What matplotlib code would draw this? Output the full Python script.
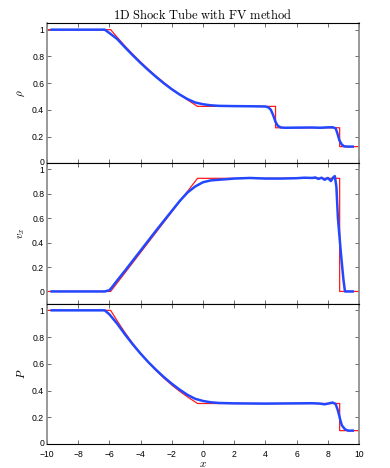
import matplotlib
matplotlib.use('Agg')
import matplotlib.pyplot as plt
from matplotlib.transforms import ScaledTranslation

plt.rcParams['font.family'] = ['Liberation Sans', 'DejaVu Sans']
plt.rcParams['mathtext.fontset'] = 'cm'

# exact solution (red)
x_ex_rho = [-10, -5.92, -5.5, -5.0, -4.5, -4.0, -3.5, -3.0, -2.5, -2.0, -1.5, -1.0, -0.35, 4.65, 4.65, 8.76, 8.76, 10]
rho_ex = [1.0, 1.0, 0.943, 0.877, 0.816, 0.758, 0.703, 0.651, 0.603, 0.557, 0.515, 0.475, 0.426, 0.426, 0.266, 0.266, 0.125, 0.125]

x_ex_v = [-10, -5.92, -0.35, 8.76, 8.76, 10]
v_ex = [0.0, 0.0, 0.927, 0.927, 0.0, 0.0]

x_ex_p = [-10, -5.92, -5.5, -5.0, -4.5, -4.0, -3.5, -3.0, -2.5, -2.0, -1.5, -1.0, -0.35, 8.76, 8.76, 10]
p_ex = [1.0, 1.0, 0.921, 0.833, 0.752, 0.678, 0.611, 0.549, 0.492, 0.441, 0.395, 0.353, 0.303, 0.303, 0.1, 0.1]

# FV solution (blue)
x_fv_rho = [-9.7, -6.3, -6.0, -5.5, -5.0, -4.5, -4.0, -3.5, -3.0, -2.5, -2.0, -1.5, -1.0, -0.5, 0.0, 0.5, 1.0, 2.0,
            3.0, 4.0, 4.2, 4.35, 4.5, 4.65, 4.8, 5.0, 5.3, 6.0, 7.0, 7.5, 8.0, 8.3, 8.5, 8.6, 8.75, 8.9, 9.05, 9.3, 9.6]
rho_fv = [1.0, 1.0, 0.975, 0.93, 0.868, 0.808, 0.751, 0.697, 0.646, 0.598, 0.554, 0.515, 0.481, 0.455, 0.442, 0.434,
          0.43, 0.428, 0.427, 0.425, 0.418, 0.40, 0.36, 0.31, 0.28, 0.268, 0.266, 0.267, 0.268, 0.266, 0.269, 0.27,
          0.262, 0.23, 0.17, 0.14, 0.127, 0.125, 0.125]

x_fv_v = [-9.7, -6.3, -6.0, -5.8, -5.5, -5.0, -4.0, -3.0, -2.0, -1.5, -1.0, -0.5, 0.0, 0.5, 1.0, 2.0, 3.0, 4.0, 5.0,
          6.0, 6.5, 7.0, 7.2, 7.4, 7.6, 7.8, 8.0, 8.2, 8.35, 8.45, 8.55, 8.65, 8.75, 8.85, 9.0, 9.1, 9.6]
v_fv = [0.0, 0.0, 0.01, 0.04, 0.09, 0.17, 0.335, 0.5, 0.66, 0.74, 0.81, 0.86, 0.895, 0.91, 0.915, 0.925, 0.93, 0.925,
        0.925, 0.928, 0.932, 0.93, 0.934, 0.922, 0.932, 0.915, 0.93, 0.905, 0.935, 0.945, 0.86, 0.6, 0.45, 0.3, 0.1, 0.0, 0.0]

x_fv_p = [-9.7, -6.3, -6.0, -5.5, -5.0, -4.5, -4.0, -3.5, -3.0, -2.5, -2.0, -1.5, -1.0, -0.5, 0.0, 0.5, 1.0, 2.0,
          3.0, 4.0, 5.0, 6.0, 7.0, 7.5, 7.8, 8.0, 8.3, 8.5, 8.65, 8.8, 8.9, 9.1, 9.3, 9.6]
p_fv = [1.0, 1.0, 0.97, 0.9, 0.82, 0.745, 0.676, 0.612, 0.554, 0.5, 0.451, 0.407, 0.368, 0.338, 0.322, 0.312,
        0.307, 0.304, 0.303, 0.302, 0.303, 0.304, 0.305, 0.302, 0.297, 0.302, 0.31, 0.3, 0.25, 0.18, 0.14, 0.11,
        0.1, 0.1]

ylabels = [r'$\rho$', r'$v_x$', r'$P$']
ylims = [(0, 1.05), (-0.1, 1.05), (0, 1.05)]
yticks = [0, 0.2, 0.4, 0.6, 0.8, 1]
ytick_labels = ['0', '0.2', '0.4', '0.6', '0.8', '1']
xticks = [-10, -8, -6, -4, -2, 0, 2, 4, 6, 8, 10]
xtick_labels = ['\u221210', '\u22128', '\u22126', '\u22124', '\u22122', '0', '2', '4', '6', '8', '10']

fig, axes = plt.subplots(3, 1, figsize=(3.9, 4.68), dpi=100, sharex=True)
fig.subplots_adjust(left=0.1205, right=0.9205, bottom=0.0513, top=0.9509, hspace=0)

data = [(x_ex_rho, rho_ex, x_fv_rho, rho_fv),
        (x_ex_v, v_ex, x_fv_v, v_fv),
        (x_ex_p, p_ex, x_fv_p, p_fv)]

for i, ax in enumerate(axes):
    xe, ye, xf, yf = data[i]
    ax.plot(xe, ye, color='#ff1a1a', lw=0.9, zorder=2)
    ax.plot(xf, yf, color='#2347ff', lw=1.8, zorder=3)
    ax.set_xlim(-10, 10)
    ax.set_ylim(*ylims[i])
    ax.set_yticks(yticks)
    ax.set_yticklabels(ytick_labels)
    ax.set_xticks(xticks)
    ax.set_ylabel(ylabels[i], fontsize=8, labelpad=4)
    ax.tick_params(direction='in', length=3, width=0.6, color='#555555',
                   labelsize=6.2, top=True, right=True)
    ax.tick_params(axis='y', pad=2)
    ax.tick_params(axis='x', pad=4)
    for s in ['left', 'right']:
        ax.spines[s].set_color('#888888')
        ax.spines[s].set_linewidth(1.2)
    for s in ['top', 'bottom']:
        ax.spines[s].set_color('black')
        ax.spines[s].set_linewidth(0.8)

# nudge the "0" labels that sit on a panel boundary up a little
for ax in [axes[0], axes[2]]:
    lab = ax.get_yticklabels()[0]
    lab.set_transform(lab.get_transform() + ScaledTranslation(0, 1.2 / 72, fig.dpi_scale_trans))

axes[2].set_xticklabels(xtick_labels)
axes[2].set_xlabel(r'$x$', fontsize=8, labelpad=0)
axes[0].set_title(r'$\mathrm{1D\ Shock\ Tube\ with\ FV\ method}$', fontsize=9, pad=3)

plt.savefig('out.png', dpi=100)
